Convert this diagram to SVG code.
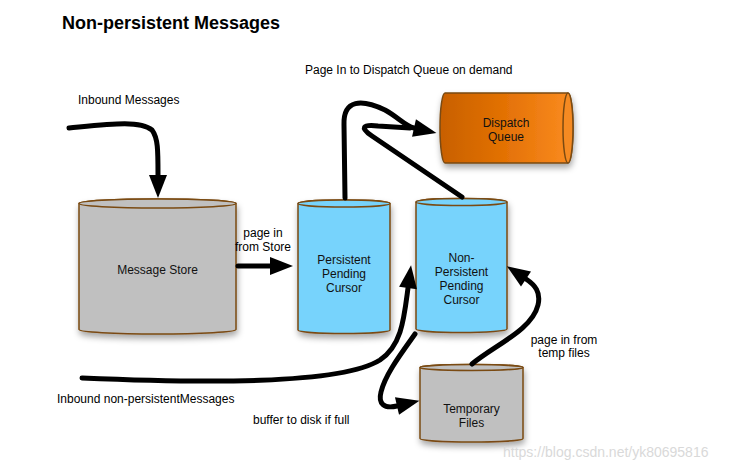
<svg xmlns="http://www.w3.org/2000/svg" width="745" height="472" viewBox="0 0 745 472">
<style>
text{font-family:"Liberation Sans",Arial,sans-serif;font-size:12px;fill:#000}
.title{font-size:18px;font-weight:bold}
.nt{text-anchor:middle;fill:#111}
.cyl{stroke:#7a4a12;stroke-width:1.5}
.gray{fill:#c0c0c0}
.blue{fill:#77d3fc}
.conn{fill:none;stroke:#000;stroke-width:5;stroke-linecap:round;stroke-linejoin:round}
.wm{font-size:14px;fill:#d9d9d9}
</style>
<defs>
<filter id="sh" x="-20%" y="-20%" width="140%" height="150%">
<feDropShadow dx="1" dy="4" stdDeviation="3" flood-color="#000" flood-opacity="0.35"/>
</filter>
<linearGradient id="og" x1="0" y1="0" x2="1" y2="0">
<stop offset="0" stop-color="#c86000"/>
<stop offset="0.5" stop-color="#e47206"/>
<stop offset="1" stop-color="#fb8c20"/>
</linearGradient>
<marker id="ah" markerUnits="userSpaceOnUse" markerWidth="24" markerHeight="19" refX="0" refY="9" orient="auto" viewBox="0 0 24 19" overflow="visible">
<path d="M0,0 L23,9 L0,18 z" fill="#000"/>
</marker>
</defs>

<text class="title" x="62" y="29">Non-persistent Messages</text>

<g id="message-store">
<path class="cyl gray" filter="url(#sh)" d="M79,203.5 L79,329.5 A78.5,4.5 0 0 0 236,329.5 L236,203.5 A78.5,4.5 0 0 0 79,203.5 z"/>
<ellipse class="cyl gray" cx="157.5" cy="203.5" rx="78.5" ry="4.5"/>
<text class="nt" x="157.5" y="274">Message Store</text>
</g>

<g id="persistent-cursor">
<path class="cyl blue" filter="url(#sh)" d="M298,203.5 L298,330 A46,3.5 0 0 0 390,330 L390,203.5 A46,3.5 0 0 0 298,203.5 z"/>
<ellipse class="cyl blue" cx="344" cy="203.5" rx="46" ry="3.5"/>
<text class="nt" x="344" y="264">Persistent</text>
<text class="nt" x="344" y="278">Pending</text>
<text class="nt" x="344" y="292">Cursor</text>
</g>

<g id="non-persistent-cursor">
<path class="cyl blue" filter="url(#sh)" d="M416,202 L416,329 A45.5,3.5 0 0 0 507,329 L507,202 A45.5,3.5 0 0 0 416,202 z"/>
<ellipse class="cyl blue" cx="461.5" cy="202" rx="45.5" ry="3.5"/>
<text class="nt" x="461.5" y="262">Non-</text>
<text class="nt" x="461.5" y="276">Persistent</text>
<text class="nt" x="461.5" y="290">Pending</text>
<text class="nt" x="461.5" y="304">Cursor</text>
</g>

<g id="dispatch-queue">
<path class="cyl" fill="url(#og)" filter="url(#sh)" d="M445,93 L568,93 A5,35 0 0 1 568,163 L445,163 A5,35 0 0 1 445,93 z"/>
<ellipse class="cyl" fill="#f58a22" cx="568" cy="128" rx="5" ry="35"/>
<text class="nt" x="506" y="127">Dispatch</text>
<text class="nt" x="506" y="141">Queue</text>
</g>

<g id="temporary-files">
<path class="cyl gray" filter="url(#sh)" d="M420,367.5 L420,438.5 A51.5,3.5 0 0 0 523,438.5 L523,367.5 A51.5,3 0 0 0 420,367.5 z"/>
<ellipse class="cyl gray" cx="471.5" cy="367.5" rx="51.5" ry="3"/>
<text class="nt" x="471.5" y="413">Temporary</text>
<text class="nt" x="471.5" y="427">Files</text>
</g>

<g id="connectors">
<path class="conn" marker-end="url(#ah)" d="M69,128 C110,124 140,120 152,130 C158,138 158,150 158,175"/>
<path class="conn" marker-end="url(#ah)" d="M238,266 L270,266"/>
<path class="conn" marker-end="url(#ah)" d="M345,198 L344,125 C343,99 362,99 385,110 C398,117 405,126 414,128"/>
<path class="conn" d="M462,197 L372,136 C360,128 362,124 378,126 L410,128"/>
<path class="conn" marker-end="url(#ah)" d="M82,378 C200,383 340,385 380,360 C402,345 404,318 408,288"/>
<path class="conn" marker-end="url(#ah)" d="M415,334 C400,355 385,375 381,392 C378,404 384,409 397,406"/>
<path class="conn" marker-end="url(#ah)" d="M472,364 C495,345 532,330 538,305 C541,292 535,285 526,279"/>
</g>

<g id="labels">
<text x="305" y="74">Page In to Dispatch Queue on demand</text>
<text x="78" y="104">Inbound Messages</text>
<text x="263" y="237" text-anchor="middle">page in</text>
<text x="263" y="251" text-anchor="middle">from Store</text>
<text x="57" y="403">Inbound non-persistentMessages</text>
<text x="253" y="424">buffer to disk if full</text>
<text x="564" y="344" text-anchor="middle">page in from</text>
<text x="564" y="357" text-anchor="middle">temp files</text>
<text class="wm" x="503" y="457">https://blog.csdn.net/yk80695816</text>
</g>
</svg>
